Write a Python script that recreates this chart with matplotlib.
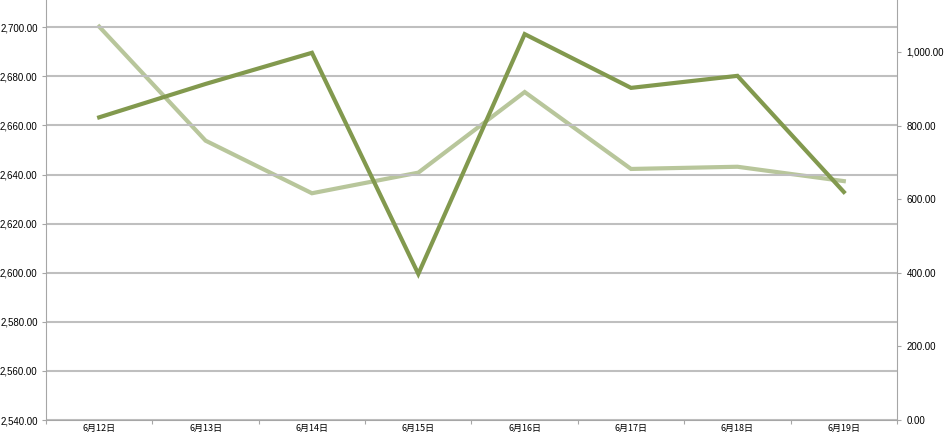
import matplotlib
matplotlib.use('Agg')
import matplotlib.pyplot as plt
from matplotlib.ticker import FuncFormatter, FixedLocator
import numpy as np

plt.rcParams['font.family'] = ['Noto Sans CJK SC', 'DejaVu Sans']

# 数据
dates = ['6月12日', '6月13日', '6月14日', '6月15日', '6月16日', '6月17日', '6月18日', '6月19日']
index_values = [2663.3, 2676.9, 2689.6, 2599.5, 2697.2, 2675.3, 2680.2, 2632.9]   # 左轴
volume_values = [1068.7, 758.9, 616.0, 672.0, 891.0, 682.0, 688.0, 649.0]       # 右轴
left_ticks = [2540, 2560, 2580, 2600, 2620, 2640, 2660, 2680, 2700]
right_ticks = [0, 200, 400, 600, 800, 1000]

dark_green = '#82994e'
light_green = '#b8c69b'
grid_color = '#bfbfbf'
axis_color = '#a6a6a6'

fig = plt.figure(figsize=(9.45, 4.36), dpi=100)
ax = fig.add_axes([46 / 945, 16 / 436, (897 - 46) / 945, 420 / 436])
ax2 = ax.twinx()

x = np.arange(len(dates))

# 网格线
for v in left_ticks:
    ax.axhline(v, color=grid_color, lw=1.5, zorder=0)

ax.plot(x, index_values, color=dark_green, lw=3, zorder=3, solid_joinstyle='miter')
ax2.plot(x, volume_values, color=light_green, lw=3, zorder=2, solid_joinstyle='miter')
ax.set_zorder(ax2.get_zorder() + 1)
ax.patch.set_visible(False)

ax.set_xlim(-0.5, len(dates) - 0.5)
ax.set_ylim(2540, 2711.1)
ax2.set_ylim(0, 1141)

fmt = FuncFormatter(lambda v, p: f'{v:,.2f}')
ax.yaxis.set_major_locator(FixedLocator(left_ticks))
ax.yaxis.set_major_formatter(fmt)
ax2.yaxis.set_major_locator(FixedLocator(right_ticks))
ax2.yaxis.set_major_formatter(fmt)

# x轴：刻度在类别之间，标签在中间
ax.set_xticks(np.arange(-0.5, len(dates), 1.0))
ax.set_xticklabels([])
ax.set_xticks(x, minor=True)
ax.set_xticklabels(dates, minor=True, fontsize=6.5)
ax.tick_params(axis='x', which='minor', length=0, pad=3)
ax.tick_params(axis='x', which='major', length=3, color=axis_color, direction='out')

ax.tick_params(axis='y', length=3, color=axis_color, pad=3)
ax2.tick_params(axis='y', length=3, color=axis_color, pad=4)
for lab in ax.get_yticklabels() + ax2.get_yticklabels():
    lab.set_fontfamily(['Liberation Sans'])
    lab.set_fontsize(7)

for a in (ax, ax2):
    for s in a.spines.values():
        s.set_visible(False)
ax.spines['left'].set_visible(True)
ax.spines['left'].set_color(axis_color)
ax.spines['bottom'].set_visible(True)
ax.spines['bottom'].set_color(axis_color)
ax2.spines['right'].set_visible(True)
ax2.spines['right'].set_color(axis_color)

fig.savefig('out.png', dpi=100, facecolor='white')
